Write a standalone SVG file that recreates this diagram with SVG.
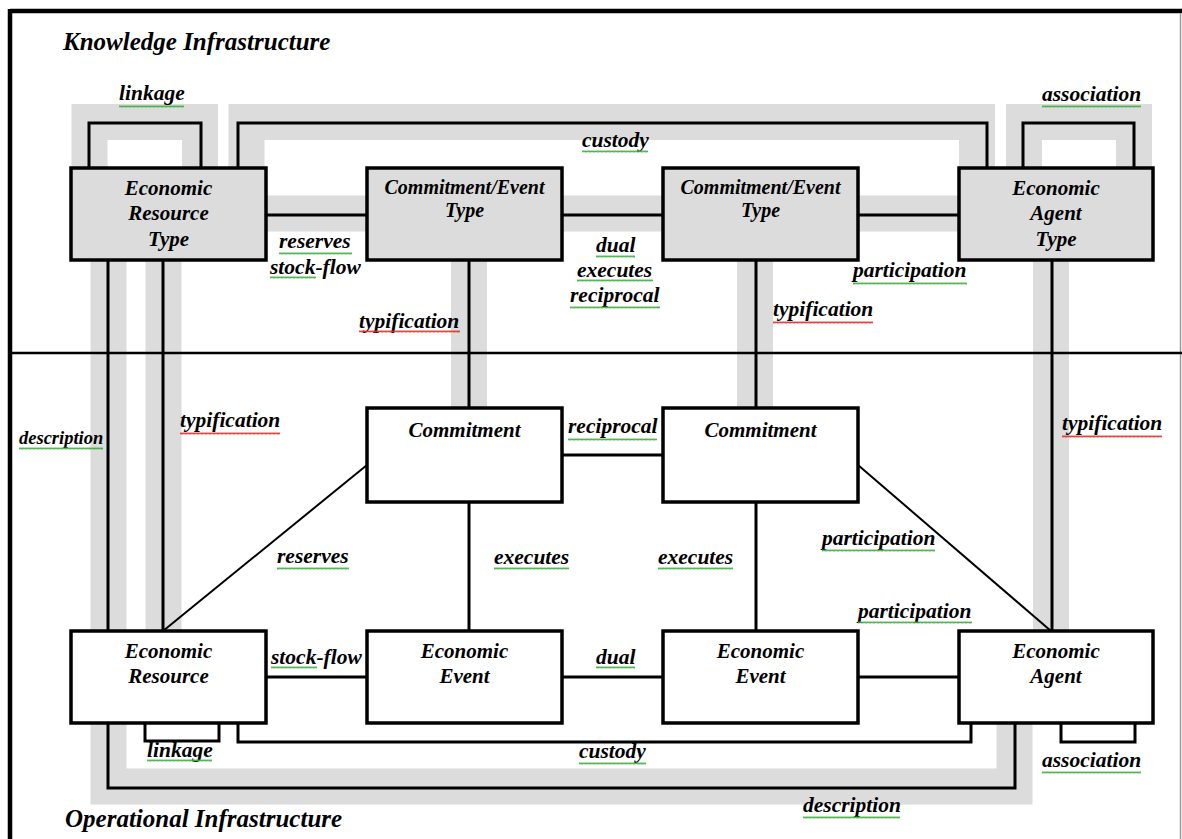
<svg xmlns="http://www.w3.org/2000/svg" width="1182" height="839" viewBox="0 0 1182 839">
  <defs>
    <pattern id="wavyGreen" width="4" height="3" patternUnits="userSpaceOnUse">
      <path d="M0,2.5 L1,0.5 L2,2.5 L3,0.5 L4,2.5" fill="none" stroke="#3fae3f" stroke-width="0.9"/>
    </pattern>
    <pattern id="wavyRed" width="4" height="3" patternUnits="userSpaceOnUse">
      <path d="M0,2.5 L1,0.5 L2,2.5 L3,0.5 L4,2.5" fill="none" stroke="#e0302a" stroke-width="0.9"/>
    </pattern>
  </defs>
  <style>
    .band { fill: none; stroke: #dcdcdc; stroke-width: 36; stroke-linejoin: miter; stroke-linecap: butt; }
    .wire { fill: none; stroke: #000; stroke-width: 3; stroke-linejoin: miter; }
    .thin { fill: none; stroke: #000; stroke-width: 2; }
    .type { fill: #dcdcdc; stroke: #000; stroke-width: 3.5; }
    .inst { fill: #fff; stroke: #000; stroke-width: 3.5; }
    .nt { font-family: "Liberation Serif", "Times New Roman", serif; font-style: italic; font-weight: bold; font-size: 21px; fill: #000; text-anchor: middle; }
    .nt.small { font-size: 20px; }
    .lbl { font-family: "Liberation Serif", "Times New Roman", serif; font-style: italic; font-weight: bold; font-size: 21.5px; fill: #000; }
    .lbl.small { font-size: 18.5px; }
    .title { font-family: "Liberation Serif", "Times New Roman", serif; font-style: italic; font-weight: bold; font-size: 25px; fill: #000; }
    .sqg { fill: url(#wavyGreen); }
    .sqr { fill: url(#wavyRed); }
  </style>

  <rect x="0" y="0" width="1182" height="839" fill="#fff"/>

  <!-- frame -->
  <g id="frame">
    <line x1="10" y1="11" x2="1182" y2="11" stroke="#000" stroke-width="4.5"/>
    <line x1="10" y1="9" x2="10" y2="839" stroke="#000" stroke-width="4.5"/>
    <line x1="1180.5" y1="13" x2="1180.5" y2="839" stroke="#9a9a9a" stroke-width="1.5"/>
  </g>

  <!-- grey highlight bands behind the type-level links -->
  <g id="bands">
    <path class="band" d="M89.5,168 V122 H200 V168"/>
    <path class="band" d="M246.5,168 V122 H977 V168"/>
    <path class="band" d="M1024,168 V122 H1134 V168"/>
    <path class="band" d="M266,213.5 H959"/>
    <path class="band" d="M469,260 V408"/>
    <path class="band" d="M755,260 V408"/>
    <path class="band" d="M1051,260 V631"/>
    <path class="band" d="M108.5,260 V786.5 H1014.5 V723"/>
    <path class="band" d="M163.5,260 V631"/>
  </g>

  <!-- divider between the two infrastructures -->
  <line id="divider" x1="10" y1="353" x2="1182" y2="353" stroke="#000" stroke-width="2.5"/>

  <!-- connectors -->
  <g id="connectors">
    <path class="wire" d="M89,168 V123 H201 V168"/>
    <path class="wire" d="M238,168 V123 H987 V168"/>
    <path class="wire" d="M1023,168 V123 H1134 V168"/>
    <path class="wire" d="M266,215 H367"/>
    <path class="wire" d="M562,215 H663"/>
    <path class="wire" d="M858,215 H959"/>
    <path class="wire" d="M469,260 V408"/>
    <path class="wire" d="M756,260 V408"/>
    <path class="wire" d="M469,502 V631"/>
    <path class="wire" d="M756,502 V631"/>
    <path class="wire" d="M1052,260 V631"/>
    <path class="wire" d="M108,260 V631"/>
    <path class="wire" d="M163,260 V631"/>
    <path class="wire" d="M562,455 H663"/>
    <path class="thin" d="M367,465 L163,631"/>
    <path class="thin" d="M858,465 L1051,631"/>
    <path class="wire" d="M266,677 H367"/>
    <path class="wire" d="M562,677 H663"/>
    <path class="wire" d="M858,677 H959"/>
    <path class="wire" d="M108,723 V788 H1015 V723"/>
    <path class="wire" d="M145,723 V741 H219 V723"/>
    <path class="wire" d="M238,723 V742 H971 V723"/>
    <path class="wire" d="M1061,723 V742 H1135 V723"/>
  </g>

  <!-- knowledge-level type nodes -->
  <g id="resource-type">
    <rect class="type" x="71" y="168" width="195" height="92"/>
    <text class="nt" x="168.5" y="195">Economic</text>
    <text class="nt" x="168.5" y="220">Resource</text>
    <text class="nt" x="168.5" y="246">Type</text>
  </g>
  <g id="commitment-event-type-1">
    <rect class="type" x="367" y="168" width="195" height="92"/>
    <text class="nt small" x="464.5" y="194">Commitment/Event</text>
    <text class="nt small" x="464.5" y="217">Type</text>
  </g>
  <g id="commitment-event-type-2">
    <rect class="type" x="663" y="168" width="195" height="92"/>
    <text class="nt small" x="760.5" y="194">Commitment/Event</text>
    <text class="nt small" x="760.5" y="217">Type</text>
  </g>
  <g id="agent-type">
    <rect class="type" x="959" y="168" width="194" height="92"/>
    <text class="nt" x="1056" y="195">Economic</text>
    <text class="nt" x="1056" y="220">Agent</text>
    <text class="nt" x="1056" y="246">Type</text>
  </g>

  <!-- operational-level nodes -->
  <g id="commitment-1">
    <rect class="inst" x="367" y="408" width="195" height="94"/>
    <text class="nt" x="464.5" y="437">Commitment</text>
  </g>
  <g id="commitment-2">
    <rect class="inst" x="663" y="408" width="195" height="94"/>
    <text class="nt" x="760.5" y="437">Commitment</text>
  </g>
  <g id="resource">
    <rect class="inst" x="71" y="631" width="195" height="92"/>
    <text class="nt" x="168.5" y="658">Economic</text>
    <text class="nt" x="168.5" y="683">Resource</text>
  </g>
  <g id="event-1">
    <rect class="inst" x="367" y="631" width="195" height="92"/>
    <text class="nt" x="464.5" y="658">Economic</text>
    <text class="nt" x="464.5" y="683">Event</text>
  </g>
  <g id="event-2">
    <rect class="inst" x="663" y="631" width="195" height="92"/>
    <text class="nt" x="760.5" y="658">Economic</text>
    <text class="nt" x="760.5" y="683">Event</text>
  </g>
  <g id="agent">
    <rect class="inst" x="959" y="631" width="194" height="92"/>
    <text class="nt" x="1056" y="658">Economic</text>
    <text class="nt" x="1056" y="683">Agent</text>
  </g>

  <!-- section titles -->
  <g id="titles">
    <text class="title" x="63" y="50">Knowledge Infrastructure</text>
    <text class="title" x="65" y="827">Operational Infrastructure</text>
  </g>

  <!-- relationship labels with spell-check underlines -->
  <g id="labels">
    <text class="lbl" x="119" y="100">linkage</text>
    <rect class="sqg" x="119" y="105" width="65" height="3"/>
    <text class="lbl" x="582" y="147">custody</text>
    <rect class="sqg" x="582" y="150" width="66" height="3"/>
    <text class="lbl" x="1042" y="101">association</text>
    <rect class="sqg" x="1042" y="105" width="99" height="3"/>
    <text class="lbl" x="279" y="248">reserves</text>
    <rect class="sqg" x="279" y="252" width="73" height="3"/>
    <text class="lbl" x="270" y="274">stock-flow</text>
    <rect class="sqg" x="270" y="276" width="46" height="3"/>
    <text class="lbl" x="596" y="252">dual</text>
    <rect class="sqg" x="596" y="255" width="39" height="3"/>
    <text class="lbl" x="577" y="277">executes</text>
    <rect class="sqg" x="577" y="279" width="76" height="3"/>
    <text class="lbl" x="570" y="302">reciprocal</text>
    <rect class="sqg" x="570" y="306" width="90" height="3"/>
    <text class="lbl" x="359" y="328">typification</text>
    <rect class="sqr" x="359" y="330" width="101" height="3"/>
    <text class="lbl" x="773" y="316">typification</text>
    <rect class="sqr" x="773" y="321" width="100" height="3"/>
    <text class="lbl" x="853" y="277">participation</text>
    <rect class="sqg" x="853" y="282" width="114" height="3"/>

    <text class="lbl small" x="19" y="444">description</text>
    <rect class="sqg" x="19" y="447" width="84" height="3"/>
    <text class="lbl" x="180" y="427">typification</text>
    <rect class="sqr" x="180" y="432" width="100" height="3"/>
    <text class="lbl" x="277" y="563">reserves</text>
    <rect class="sqg" x="277" y="567" width="72" height="3"/>
    <text class="lbl" x="568" y="433">reciprocal</text>
    <rect class="sqg" x="568" y="438" width="89" height="3"/>
    <text class="lbl" x="494" y="564">executes</text>
    <rect class="sqg" x="494" y="567" width="75" height="3"/>
    <text class="lbl" x="658" y="564">executes</text>
    <rect class="sqg" x="658" y="567" width="75" height="3"/>
    <text class="lbl" x="1062" y="430">typification</text>
    <rect class="sqr" x="1062" y="435" width="100" height="3"/>
    <text class="lbl" x="822" y="545">participation</text>
    <rect class="sqg" x="822" y="549" width="113" height="3"/>
    <text class="lbl" x="858" y="618">participation</text>
    <rect class="sqg" x="858" y="621" width="114" height="3"/>

    <text class="lbl" x="271" y="664">stock-flow</text>
    <rect class="sqg" x="271" y="666" width="46" height="3"/>
    <text class="lbl" x="596" y="664">dual</text>
    <rect class="sqg" x="596" y="666" width="39" height="3"/>
    <text class="lbl" x="147" y="757">linkage</text>
    <rect class="sqg" x="147" y="759" width="65" height="3"/>
    <text class="lbl" x="579" y="758">custody</text>
    <rect class="sqg" x="579" y="762" width="67" height="3"/>
    <text class="lbl" x="1042" y="767">association</text>
    <rect class="sqg" x="1042" y="771" width="99" height="3"/>
    <text class="lbl" x="803" y="812">description</text>
    <rect class="sqg" x="803" y="816" width="97" height="3"/>
  </g>
</svg>
